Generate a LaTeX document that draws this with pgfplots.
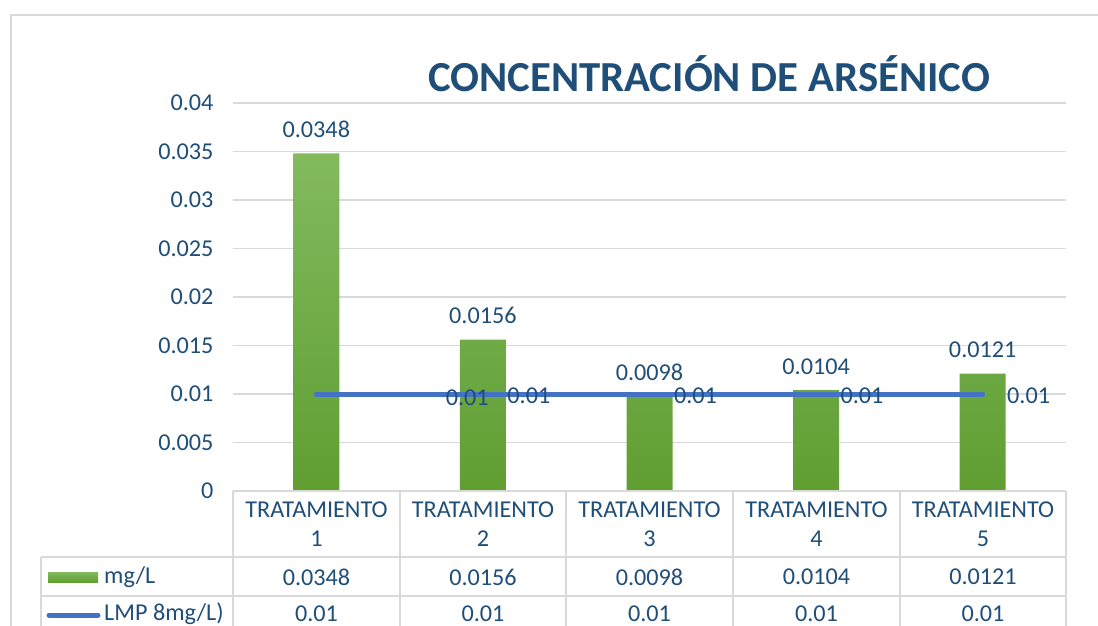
\documentclass[border=0pt]{standalone}
\usepackage{fontspec}
\setmainfont{Carlito}
\usepackage{pgfplots}
\pgfplotsset{compat=1.18}
\usepackage{pgfplotstable}
\definecolor{txt}{RGB}{31,78,121}
\definecolor{gridc}{RGB}{217,217,217}
\definecolor{lineblue}{RGB}{68,114,196}
\definecolor{gtop}{RGB}{130,186,94}
\definecolor{gbot}{RGB}{96,158,50}

\pgfplotstableread{
x y
0 0.0348
1 0.0156
2 0.0098
3 0.0104
4 0.0121
}\barsdata
\pgfplotstableread{
x y dx dy
0 0.01 127 -4
1 0.01 22 -2
2 0.01 22 -2
3 0.01 22 -2
4 0.01 22 -2
}\lmpdata

\newcommand{\tf}{\fontsize{24.2}{29}\selectfont}

\begin{document}
\begin{tikzpicture}[x=1pt,y=1pt]
\useasboundingbox (0,0) rectangle (1098,-626);
\clip (0,0) rectangle (1098,-626);
\draw[gridc, line width=1.5pt] (11,-630) -- (11,-15) -- (1100,-15);
\node[anchor=base, font=\fontsize{42.8}{50}\selectfont\bfseries, text=txt, inner sep=0pt] at (709,-92) {CONCENTRACIÓN DE ARSÉNICO};

\begin{axis}[
  at={(233pt,-491pt)}, anchor=south west, scale only axis,
  width=833pt, height=388pt,
  xmin=-0.5, xmax=4.5, ymin=0, ymax=0.04,
  ytick={0,0.005,0.01,0.015,0.02,0.025,0.03,0.035,0.04},
  scaled y ticks=false,
  xtick=\empty,
  axis line style={draw=none},
  ymajorgrids, grid style={gridc, line width=1.3pt},
  major tick length=0pt,
  yticklabel style={font=\tf, text=txt, /pgf/number format/fixed, /pgf/number format/precision=3, /pgf/number format/assume math mode=true, xshift=-16pt},
  clip=false,
]
\addplot[ybar, bar width=46pt, draw=none, top color=gtop, bottom color=gbot] table[x=x,y=y]{\barsdata};
\addplot[draw=none, mark=none, nodes near coords,
  every node near coord/.append style={anchor=south, yshift=12pt, font=\tf, text=txt, /pgf/number format/fixed, /pgf/number format/precision=4, /pgf/number format/assume math mode=true}] table[x=x,y=y]{\barsdata};
\addplot[lineblue, line width=5pt, line cap=round, mark=none,
  visualization depends on={\thisrow{dx}\as\dx},
  visualization depends on={\thisrow{dy}\as\dy},
  nodes near coords,
  every node near coord/.append style={anchor=west, inner sep=0pt, xshift=\dx pt, yshift=\dy pt, font=\tf, text=txt, /pgf/number format/fixed, /pgf/number format/precision=2, /pgf/number format/assume math mode=true}] table[x=x,y=y]{\lmpdata};
\end{axis}

% data table
\draw[gridc, line width=1.5pt] (233,-491) -- (1066,-491);
\draw[gridc, line width=1.5pt] (41,-557) -- (1066,-557);
\draw[gridc, line width=1.5pt] (41,-596) -- (1066,-596);
\foreach \xx in {233,400,566,733,900,1066} {\draw[gridc, line width=1.5pt] (\xx,-491) -- (\xx,-630);}
\draw[gridc, line width=1.5pt] (41,-557) -- (41,-630);

\foreach \xx/\n in {316.5/1,483/2,649.5/3,816.5/4,983/5} {
  \node[align=center, font=\tf, text=txt, inner sep=0pt] at (\xx,-524) {TRATAMIENTO\\\n};
}
\foreach \xx/\v in {316.5/0.0348,483/0.0156,649.5/0.0098,816.5/0.0104,983/0.0121} {
  \node[font=\tf, text=txt, inner sep=0pt] at (\xx,-577) {\v};
}
\foreach \xx in {316.5,483,649.5,816.5,983} {
  \node[font=\tf, text=txt, inner sep=0pt] at (\xx,-614) {0.01};
}
\fill[top color=gtop, bottom color=gbot] (48,-572) rectangle (98,-582);
\node[anchor=west, font=\tf, text=txt, inner sep=0pt] at (104,-577) {mg/L};
\draw[lineblue, line width=5pt, line cap=round] (49,-615) -- (98,-615);
\node[anchor=west, font=\tf, text=txt, inner sep=0pt] at (104,-614) {LMP 8mg/L)};
\end{tikzpicture}
\end{document}
